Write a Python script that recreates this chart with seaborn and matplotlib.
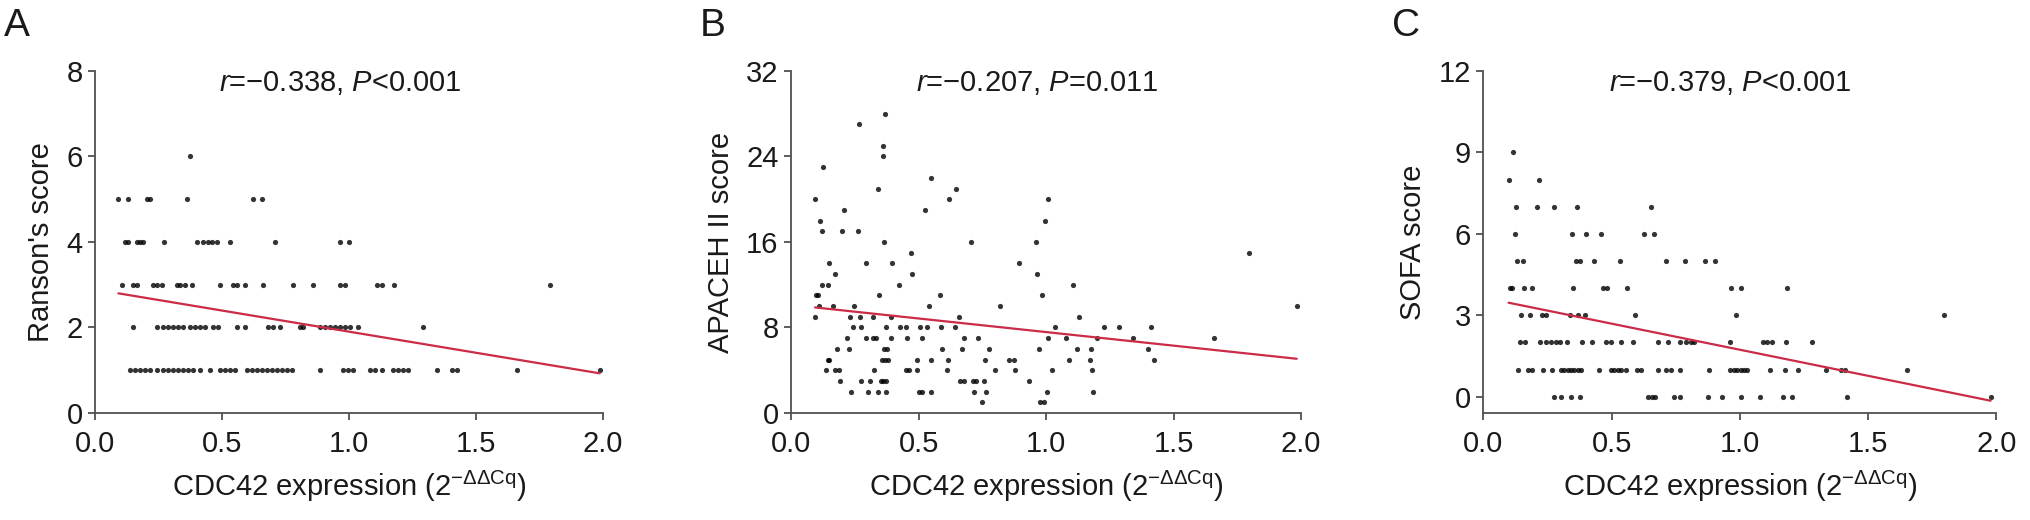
import numpy as np
import matplotlib
matplotlib.use("Agg")
import matplotlib.pyplot as plt
import seaborn as sns

# Panel A: Ranson's score -> CDC42 expression values
ranson_rows = {
    1: [0.138, 0.157, 0.177, 0.197, 0.217, 0.243, 0.269, 0.289, 0.308, 0.328, 0.348,
        0.367, 0.387, 0.413, 0.453, 0.492, 0.512, 0.531, 0.551, 0.597, 0.617, 0.636,
        0.656, 0.676, 0.696, 0.715, 0.735, 0.755, 0.774, 0.886, 0.978, 0.997, 1.017,
        1.083, 1.102, 1.129, 1.175, 1.194, 1.214, 1.234, 1.345, 1.404, 1.424, 1.66, 1.987],
    2: [0.151, 0.243, 0.269, 0.289, 0.308, 0.328, 0.348, 0.374, 0.394, 0.413, 0.433,
        0.466, 0.486, 0.558, 0.591, 0.682, 0.702, 0.728, 0.807, 0.820, 0.886, 0.906,
        0.925, 0.945, 0.965, 0.984, 1.004, 1.037, 1.29],
    3: [0.105, 0.151, 0.164, 0.230, 0.243, 0.262, 0.322, 0.335, 0.354, 0.381, 0.492,
        0.545, 0.558, 0.591, 0.663, 0.781, 0.860, 0.965, 0.984, 1.109, 1.129, 1.177, 1.79],
    4: [0.118, 0.131, 0.164, 0.177, 0.190, 0.272, 0.400, 0.427, 0.446, 0.459, 0.479,
        0.531, 0.709, 0.965, 1.001],
    5: [0.092, 0.131, 0.203, 0.217, 0.361, 0.623, 0.656],
    6: [0.374],
}

# Panel B: APACHE II score
apache_rows = {
    1: [0.748, 0.976, 0.990],
    2: [0.234, 0.301, 0.339, 0.371, 0.503, 0.512, 0.548, 0.719, 0.765, 1.005, 1.183],
    3: [0.192, 0.275, 0.310, 0.352, 0.362, 0.371, 0.663, 0.678, 0.715, 0.725, 0.758, 0.933],
    4: [0.136, 0.173, 0.186, 0.325, 0.450, 0.463, 0.495, 0.610, 0.800, 0.878, 1.022, 1.180],
    5: [0.144, 0.150, 0.358, 0.369, 0.382, 0.493, 0.548, 0.614, 0.761, 0.855, 0.876,
        1.091, 1.173, 1.424],
    6: [0.179, 0.227, 0.366, 0.375, 0.593, 0.669, 0.776, 0.973, 1.123, 1.175, 1.399],
    7: [0.218, 0.293, 0.323, 0.332, 0.392, 0.454, 0.512, 0.678, 0.735, 1.009, 1.078,
        1.201, 1.340, 1.659],
    8: [0.242, 0.275, 0.373, 0.427, 0.450, 0.506, 0.532, 0.587, 0.643, 1.035, 1.227,
        1.285, 1.412],
    9: [0.095, 0.231, 0.271, 0.323, 0.392, 0.659, 1.129],
    10: [0.110, 0.165, 0.245, 0.541, 0.821, 1.983],
    11: [0.097, 0.106, 0.345, 0.583, 0.983],
    12: [0.120, 0.144, 0.424, 1.107],
    13: [0.171, 0.475, 0.963],
    14: [0.147, 0.294, 0.395, 0.895],
    15: [0.470, 1.797],
    16: [0.365, 0.705, 0.961],
    17: [0.121, 0.200, 0.261],
    18: [0.113, 0.996],
    19: [0.209, 0.526],
    20: [0.094, 0.619, 1.009],
    21: [0.340, 0.648],
    22: [0.550],
    23: [0.127],
    24: [0.360],
    25: [0.360],
    27: [0.265],
    28: [0.369],
}

# Panel C: SOFA score
sofa_rows = {
    0: [0.276, 0.302, 0.341, 0.376, 0.642, 0.659, 0.668, 0.743, 0.766, 0.876, 0.930,
        1.005, 1.080, 1.168, 1.201, 1.418, 1.977],
    1: [0.136, 0.175, 0.190, 0.233, 0.268, 0.302, 0.315, 0.328, 0.341, 0.354, 0.367,
        0.380, 0.450, 0.497, 0.510, 0.523, 0.536, 0.554, 0.597, 0.616, 0.679, 0.711,
        0.730, 0.766, 0.880, 0.962, 0.975, 0.990, 1.003, 1.015, 1.027, 1.119, 1.177,
        1.227, 1.337, 1.395, 1.408, 1.653],
    2: [0.142, 0.162, 0.220, 0.242, 0.263, 0.281, 0.298, 0.324, 0.385, 0.424, 0.476,
        0.497, 0.536, 0.584, 0.681, 0.718, 0.766, 0.789, 0.808, 0.821, 0.960, 1.090,
        1.107, 1.125, 1.181, 1.279],
    3: [0.146, 0.181, 0.230, 0.245, 0.338, 0.370, 0.394, 0.592, 0.985, 1.794],
    4: [0.105, 0.113, 0.157, 0.190, 0.349, 0.467, 0.483, 0.558, 0.966, 1.003, 1.182],
    5: [0.129, 0.155, 0.362, 0.375, 0.430, 0.533, 0.713, 0.785, 0.863, 0.903],
    6: [0.122, 0.345, 0.400, 0.457, 0.627, 0.664],
    7: [0.126, 0.207, 0.276, 0.365, 0.654],
    8: [0.098, 0.217],
    9: [0.115],
}

panel_letters = ["A", "B", "C"]
y_labels = ["Ranson's score", "APACEH II score", "SOFA score"]
stat_r = ["\u22120.338", "\u22120.207", "\u22120.379"]
stat_p = ["<0.001", "=0.011", "<0.001"]
y_ticks = [[0, 2, 4, 6, 8], [0, 8, 16, 24, 32], [0, 3, 6, 9, 12]]
y_limits = [(0, 8), (0, 32), (-0.6, 12)]
x_ticks = [0.0, 0.5, 1.0, 1.5, 2.0]


def rows_to_xy(rows):
    xs, ys = [], []
    for score, vals in rows.items():
        xs.extend(vals)
        ys.extend([score] * len(vals))
    return np.array(xs), np.array(ys)


sns.set_theme(style="ticks")
plt.rcParams["font.family"] = ["Liberation Sans", "DejaVu Sans"]
plt.rcParams["mathtext.fontset"] = "custom"
plt.rcParams["mathtext.rm"] = "Liberation Sans"
plt.rcParams["mathtext.it"] = "Liberation Sans:italic"

fig = plt.figure(figsize=(20.31, 5.2), dpi=100)

axes_left = [0.0468, 0.3895, 0.7304]
axes_width = [0.2501, 0.2511, 0.2526]
axis_grey = "#505050"

for i, rows in enumerate([ranson_rows, apache_rows, sofa_rows]):
    x, y = rows_to_xy(rows)
    ax = fig.add_axes([axes_left[i], 0.2058, axes_width[i], 0.6577])
    sns.regplot(x=x, y=y, ax=ax, ci=None, truncate=True,
                scatter_kws=dict(s=14, color="black", linewidths=0, clip_on=False),
                line_kws=dict(color="#cc2b48", linewidth=1.6))
    ax.set_xlim(0, 2)
    ax.set_ylim(*y_limits[i])
    ax.set_xticks(x_ticks)
    ax.set_xticklabels([f"{t:.1f}" for t in x_ticks])
    ax.set_yticks(y_ticks[i])
    sns.despine(ax=ax)
    for side in ["left", "bottom"]:
        ax.spines[side].set_color(axis_grey)
        ax.spines[side].set_linewidth(1.3)
    ax.tick_params(axis="both", labelsize=21, length=5, width=1.3,
                   color=axis_grey, labelcolor="#1a1a1a")
    ax.tick_params(axis="x", pad=7)
    ax.tick_params(axis="y", pad=4)
    ax.set_xlabel(r"CDC42 expression (2$^{-\Delta\Delta\mathrm{Cq}}$)",
                  fontsize=21, color="#1a1a1a", labelpad=8)
    ax.set_ylabel(y_labels[i], fontsize=21, color="#1a1a1a", labelpad=8)
    ax.text(0.245, 0.965, f"$r$={stat_r[i]}, $P${stat_p[i]}", transform=ax.transAxes,
            fontsize=21, color="#1a1a1a", ha="left", va="center")
    fig.text(axes_left[i] - 0.045, 0.985, panel_letters[i], fontsize=28,
             color="#1a1a1a", ha="left", va="top")

fig.savefig("out.png", dpi=100)
